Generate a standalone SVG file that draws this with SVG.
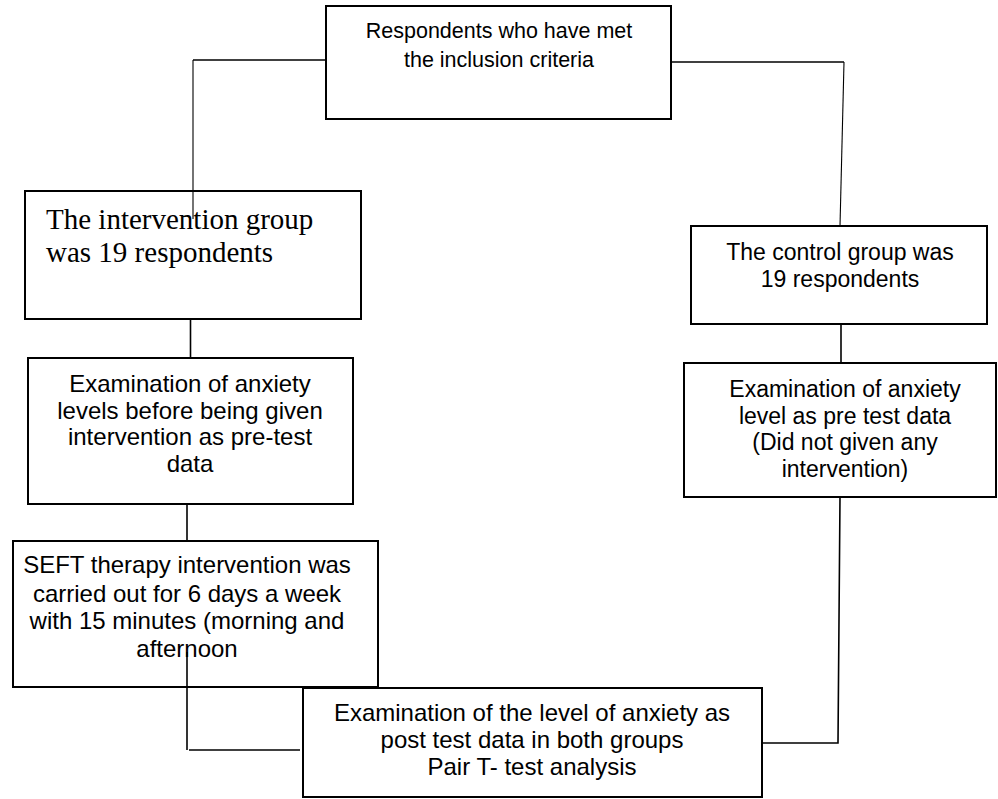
<svg xmlns="http://www.w3.org/2000/svg" width="998" height="799" viewBox="0 0 998 799">
<style>
.box{fill:#fff;stroke:#000;stroke-width:2}
.ln{fill:none;stroke:#000;stroke-width:1.6}
.thin{fill:none;stroke:#000;stroke-width:1.1}
.t{font-family:"Liberation Sans",Arial,sans-serif;font-size:23px;fill:#000;text-anchor:middle}
.w{font-size:24px}
.top{font-size:21.5px}
.s{font-family:"Liberation Serif","Times New Roman",serif;font-size:29px;fill:#000}
</style>
<rect width="998" height="799" fill="#fff"/>
<g id="n1">
<rect class="box" x="326" y="6" width="345" height="113"/>
<text class="t top"><tspan x="499" y="38">Respondents who have met</tspan><tspan x="499" y="67">the inclusion criteria</tspan></text>
</g>
<g id="n2">
<rect class="box" x="25" y="191" width="336" height="128"/>
<text class="s"><tspan x="46" y="229">The intervention group</tspan><tspan x="46" y="262">was 19 respondents</tspan></text>
</g>
<g id="n3">
<rect class="box" x="691" y="226" width="296" height="98"/>
<text class="t"><tspan x="840" y="260">The control group was</tspan><tspan x="840" y="287">19 respondents</tspan></text>
</g>
<g id="n4">
<rect class="box" x="28" y="358" width="325" height="146"/>
<text class="t w"><tspan x="190" y="392">Examination of anxiety</tspan><tspan x="190" y="418.5">levels before being given</tspan><tspan x="190" y="445">intervention as pre-test</tspan><tspan x="190" y="472">data</tspan></text>
</g>
<g id="n5">
<rect class="box" x="684" y="363" width="312" height="134"/>
<text class="t"><tspan x="845" y="397">Examination of anxiety</tspan><tspan x="845" y="423.5">level as pre test data</tspan><tspan x="845" y="450">(Did not given any</tspan><tspan x="845" y="477">intervention)</tspan></text>
</g>
<g id="n6">
<rect class="box" x="13" y="541" width="365" height="146"/>
<text class="t w"><tspan x="187" y="573">SEFT therapy intervention was</tspan><tspan x="187" y="601.5">carried out for 6 days a week</tspan><tspan x="187" y="629">with 15 minutes (morning and</tspan><tspan x="187" y="657">afternoon</tspan></text>
</g>
<g id="n7">
<rect class="box" x="303" y="688" width="459" height="109"/>
<text class="t w"><tspan x="532" y="721">Examination of the level of anxiety as</tspan><tspan x="532" y="748">post test data in both groups</tspan><tspan x="532" y="775">Pair T- test analysis</tspan></text>
</g>
<g id="connectors">
<polyline class="ln" points="326,60 193,60"/>
<line class="thin" x1="193" y1="60" x2="193" y2="219"/>
<polyline class="ln" points="671,62 844,62"/>
<line class="thin" x1="844" y1="62" x2="840" y2="226"/>
<line class="ln" x1="190.5" y1="319" x2="190.5" y2="358"/>
<line class="ln" x1="187" y1="504" x2="187" y2="541"/>
<polyline class="ln" points="187,652 187,750"/>
<line class="ln" x1="189" y1="750" x2="300" y2="750"/>
<line class="ln" x1="841" y1="324" x2="841" y2="363"/>
<polyline class="ln" points="840,497 838,743 762,743"/>
</g>
</svg>
